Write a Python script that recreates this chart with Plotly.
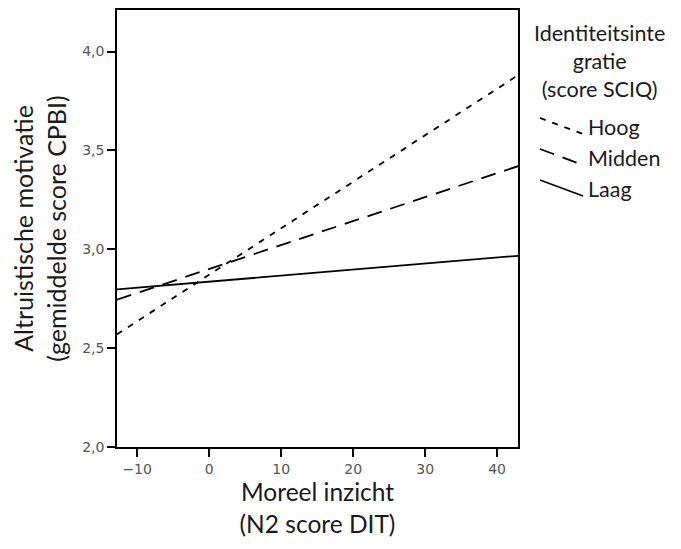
import plotly.graph_objects as go

x_ends = [-12.8, 42.9]
series_names = ["Hoog", "Midden", "Laag"]
hoog = [2.57, 3.88]
midden = [2.745, 3.42]
laag = [2.797, 2.967]
dashes = ["6px,7px", "15px,9px", "solid"]

x_ticks = [-10, 0, 10, 20, 30, 40]
y_ticks = [2.0, 2.5, 3.0, 3.5, 4.0]
legend_title = "Identiteitsinte<br>gratie<br>(score SCIQ)"

FONT = "Lato"
TICKFONT = "DejaVu Sans"

# page geometry (body has an 8px offset)
W, H = 673, 541
PL, PR, PT, PB = 117, 518, 10, 447  # plot area in page pixels


def px(xp):
    return (xp - PL) / (PR - PL)


def py(yp):
    return (PB - yp) / (PB - PT)


fig = go.Figure()
for name, ys, d in zip(series_names, [hoog, midden, laag], dashes):
    fig.add_trace(go.Scatter(x=x_ends, y=ys, mode="lines", name=name, showlegend=False,
                             line=dict(color="black", width=1.8, dash=d)))

# manual legend (diagonal symbols like the original)
fig.add_annotation(xref="paper", yref="paper", x=px(599), y=py(18), xanchor="center", yanchor="top",
                   text=legend_title, showarrow=False, align="center",
                   font=dict(size=21.5, family=FONT, color="#1a1a1a"))
item_y = [127, 158, 189]
for name, d, yc in zip(series_names, dashes, item_y):
    fig.add_shape(type="line", xref="paper", yref="paper",
                  x0=px(540), y0=py(yc - 9), x1=px(583), y1=py(yc + 7),
                  line=dict(color="black", width=1.8, dash=d))
    fig.add_annotation(xref="paper", yref="paper", x=px(586), y=py(yc), xanchor="left", yanchor="middle",
                       text=name, showarrow=False, font=dict(size=21.5, family=FONT, color="#1a1a1a"))

fig.update_layout(
    width=W, height=H,
    margin=dict(l=PL - 8, r=W - (PR - 8), t=PT - 8, b=H - (PB - 8)),
    plot_bgcolor="white", paper_bgcolor="white",
    separators=",.",
    font=dict(family=FONT, color="#1a1a1a", size=17),
    xaxis=dict(
        range=x_ends, tickvals=x_ticks, showgrid=False, zeroline=False,
        showline=True, linecolor="black", linewidth=1.5, mirror=True,
        ticks="outside", ticklen=8, tickcolor="black", tickwidth=1.5,
        tickfont=dict(size=14, color="#555", family=TICKFONT),
        title=dict(text="Moreel inzicht<br>(N2 score DIT)", standoff=8,
                   font=dict(size=24.5, family=FONT, color="#1a1a1a")),
        automargin=False,
    ),
    yaxis=dict(
        range=[2.0, 4.21], tickvals=y_ticks, tickformat=".1f", showgrid=False, zeroline=False,
        showline=True, linecolor="black", linewidth=1.5, mirror=True,
        ticks="outside", ticklen=8, tickcolor="black", tickwidth=1.5,
        tickfont=dict(size=14, color="#555", family=TICKFONT),
        title=dict(text="Altruistische motivatie<br>(gemiddelde score CPBI)", standoff=15,
                   font=dict(size=25, family=FONT, color="#1a1a1a")),
        automargin=False,
    ),
)

fig.write_html("out.html")
